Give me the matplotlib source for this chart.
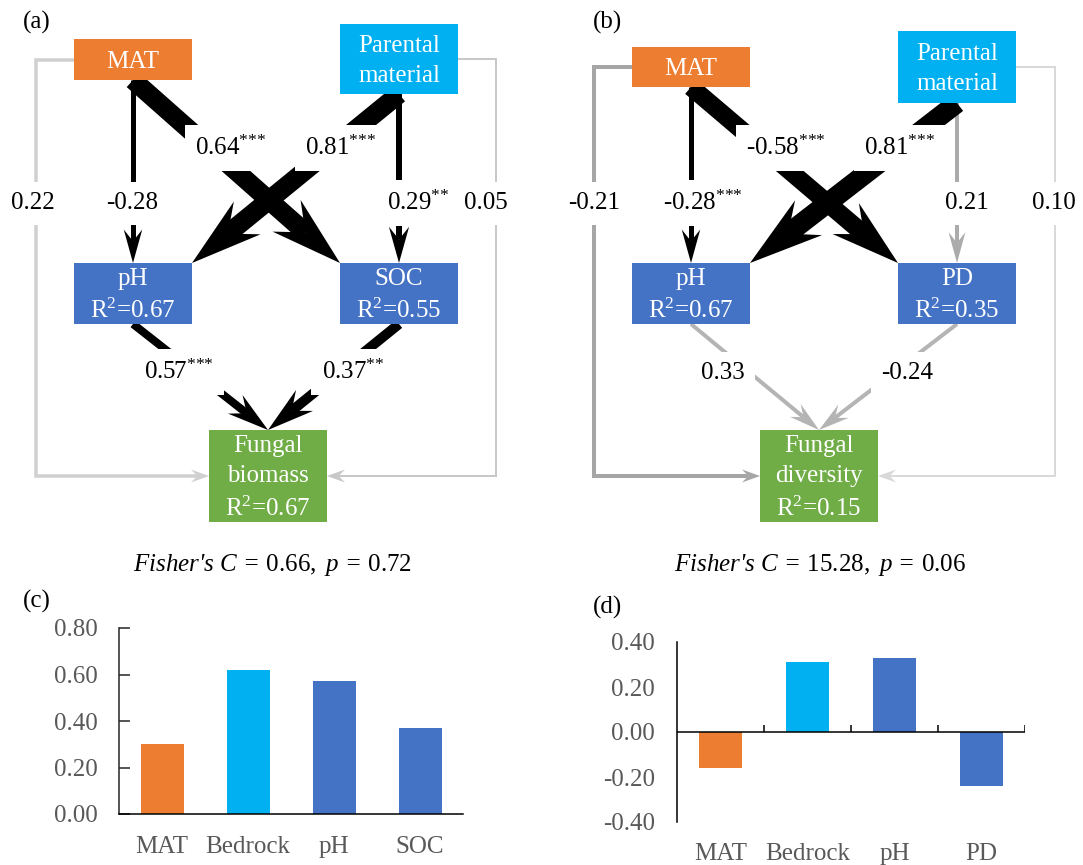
import numpy as np
import matplotlib.pyplot as plt
from matplotlib.patches import Rectangle, Polygon
from matplotlib.lines import Line2D
from matplotlib.ticker import FormatStrFormatter

plt.rcParams['font.family'] = ['Liberation Serif', 'DejaVu Serif']
plt.rcParams['mathtext.fontset'] = 'custom'
plt.rcParams['mathtext.rm'] = 'Liberation Serif'
plt.rcParams['mathtext.it'] = 'Liberation Serif:italic'
plt.rcParams['mathtext.default'] = 'regular'

# ---- path model (a): fungal biomass ----
nodes_a = {"MAT": "MAT", "PM": "Parental\nmaterial", "pH": "pH", "SOC": "SOC",
           "FB": "Fungal\nbiomass"}
r2_a = {"pH": 0.67, "SOC": 0.55, "FB": 0.67}
paths_a = [("MAT", "pH"), ("PM", "SOC"), ("MAT", "SOC"), ("PM", "pH"),
           ("pH", "FB"), ("SOC", "FB"), ("MAT", "FB"), ("PM", "FB")]
coef_a = [-0.28, 0.29, 0.64, 0.81, 0.57, 0.37, 0.22, 0.05]
stars_a = ["", "**", "***", "***", "***", "**", "", ""]
fisher_a = (0.66, 0.72)

# ---- path model (b): fungal diversity ----
nodes_b = {"MAT": "MAT", "PM": "Parental\nmaterial", "pH": "pH", "PD": "PD",
           "FD": "Fungal\ndiversity"}
r2_b = {"pH": 0.67, "PD": 0.35, "FD": 0.15}
paths_b = [("MAT", "pH"), ("PM", "PD"), ("MAT", "PD"), ("PM", "pH"),
           ("pH", "FD"), ("PD", "FD"), ("MAT", "FD"), ("PM", "FD")]
coef_b = [-0.28, 0.21, -0.58, 0.81, 0.33, -0.24, -0.21, 0.10]
stars_b = ["***", "", "***", "***", "", "", "", ""]
fisher_b = (15.28, 0.06)

# ---- standardized total effects ----
bar_labels_c = ["MAT", "Bedrock", "pH", "SOC"]
bar_values_c = [0.30, 0.62, 0.57, 0.37]
bar_labels_d = ["MAT", "Bedrock", "pH", "PD"]
bar_values_d = [-0.16, 0.31, 0.33, -0.24]

C_MAT, C_PM, C_SOIL, C_FUN = "#ED7D31", "#00B0F0", "#4472C4", "#70AD47"
node_colors = {"MAT": C_MAT, "PM": C_PM, "pH": C_SOIL, "SOC": C_SOIL,
               "PD": C_SOIL, "FB": C_FUN, "FD": C_FUN}
bar_colors = [C_MAT, C_PM, C_SOIL, C_SOIL]
FS = 18

# box geometry in pixels: x, y (top), width, height
boxes_a = {"MAT": (74, 39, 118, 41), "PM": (340, 24, 118, 70),
           "pH": (74, 263, 118, 61), "SOC": (340, 263, 118, 61),
           "FB": (209, 430, 118, 92)}
boxes_b = {"MAT": (632, 47, 118, 40), "PM": (898, 31, 118, 72),
           "pH": (632, 263, 118, 61), "PD": (898, 263, 118, 61),
           "FD": (760, 430, 118, 92)}

# per-path drawing: (kind, width px, colour, label position)
style_a = [("down", 5, "black", (132, 203)),
           ("down", 6, "black", (418, 203)),
           ("corner", 19, "black", (231, 148)),
           ("corner", 19, "black", (341, 148)),
           ("down", 8, "black", (179, 372)),
           ("down", 10, "black", (353, 372)),
           (("elbow", 36), 3.5, "#D0D0D0", (33, 203)),
           (("elbow", 496), 2, "#C8C8C8", (486, 203))]
style_b = [("down", 5, "black", (703, 203)),
           ("down", 4, "#ABABAB", (967, 203)),
           ("corner", 18, "black", (786, 148)),
           ("corner", 20, "black", (900, 148)),
           ("down", 4, "#B4B4B4", (723, 373)),
           ("down", 4, "#B4B4B4", (907, 373)),
           (("elbow", 594), 4, "#A6A6A6", (594, 203)),
           (("elbow", 1055), 2, "#D9D9D9", (1054, 203))]

fig = plt.figure(figsize=(10.83, 8.65), dpi=100)
ax = fig.add_axes([0, 0, 1, 1])
ax.set_xlim(0, 1083)
ax.set_ylim(865, 0)
ax.axis('off')


def draw_arrow(pts, w, color, head=None):
    pts = np.asarray(pts, float)
    hl, hw = head if head else (20 + 2.7 * w, 10 + 1.7 * w)
    tip = pts[-1]
    u = tip - pts[-2]
    u /= np.hypot(*u)
    n = np.array([-u[1], u[0]])
    notch = tip - 0.65 * hl * u
    shaft = np.vstack([pts[:-1], notch])
    ax.add_line(Line2D(shaft[:, 0], shaft[:, 1], lw=w * 0.72, color=color,
                       solid_capstyle='butt', solid_joinstyle='miter', zorder=1))
    ax.add_patch(Polygon([tip, tip - hl * u + hw / 2 * n, notch,
                          tip - hl * u - hw / 2 * n],
                         closed=True, fc=color, ec='none', zorder=1))


def draw_model(nodes, r2, boxes, paths, coefs, stars, styles):
    for key, (x, y, w, h) in boxes.items():
        ax.add_patch(Rectangle((x, y), w, h, fc=node_colors[key], ec='none', zorder=4))
        text = nodes[key]
        if key in r2:
            text += "\nR$^2$=%.2f" % r2[key]
        ax.text(x + w / 2, y + h / 2 + 2, text, ha='center', va='center',
                color='white', fontsize=FS, linespacing=1.5, zorder=5)

    for (src, dst), c, s, (kind, w, col, lpos) in zip(paths, coefs, stars, styles):
        sx, sy, sw, sh = boxes[src]
        dx, dy, dw, dh = boxes[dst]
        if kind == "down":
            pts = [(sx + sw / 2, sy + sh), (dx + dw / 2, dy)]
            draw_arrow(pts, w, col)
        elif kind == "corner":
            ex = dx + dw if dx < sx else dx
            pts = [(sx + sw / 2, sy + sh), (ex, dy)]
            draw_arrow(pts, w, col)
        else:
            xr = kind[1]
            side_s = sx if xr < sx else sx + sw
            side_d = dx if xr < dx else dx + dw
            pts = [(side_s, sy + sh / 2), (xr, sy + sh / 2),
                   (xr, dy + dh / 2), (side_d, dy + dh / 2)]
            draw_arrow(pts, w, col, head=(18, 13))
        label = "%.2f" % c
        if s:
            label += "$^{%s}$" % "".join("{*}" for _ in s)
        ax.text(lpos[0], lpos[1], label, ha='center', va='center', fontsize=FS,
                zorder=3, bbox=dict(boxstyle='square,pad=0.42', fc='white', ec='none'))


draw_model(nodes_a, r2_a, boxes_a, paths_a, coef_a, stars_a, style_a)
draw_model(nodes_b, r2_b, boxes_b, paths_b, coef_b, stars_b, style_b)

for xc, (cval, pval) in zip([272, 820], [fisher_a, fisher_b]):
    ax.text(xc, 565, "Fisher's C = $\\mathrm{%.2f,}$ p = $\\mathrm{%.2f}$" % (cval, pval),
            ha='center', va='center', fontsize=FS, style='italic')

for (px, py), lab in zip([(37, 22), (608, 22), (37, 601), (608, 607)],
                         ["(a)", "(b)", "(c)", "(d)"]):
    ax.text(px, py, lab, ha='center', va='center', fontsize=FS)

# ---- bar chart (c) ----
axc = fig.add_axes([119 / 1083, 1 - 814 / 865, 344 / 1083, 186 / 865])
axc.set_facecolor('none')
axc.bar(range(len(bar_values_c)), bar_values_c, width=0.5, color=bar_colors)
axc.set_xlim(-0.5, 3.5)
axc.set_ylim(0, 0.8)
axc.set_yticks(np.arange(0, 0.81, 0.2))
axc.yaxis.set_major_formatter(FormatStrFormatter('%.2f'))
axc.set_xticks(range(len(bar_labels_c)))
axc.set_xticklabels(bar_labels_c)
axc.tick_params(axis='y', direction='in', length=8, width=1.1, pad=15,
                labelsize=FS, labelcolor='#595959', color='#262626')
axc.tick_params(axis='x', length=0, pad=16, labelsize=FS, labelcolor='#595959')
for sp in ['top', 'right']:
    axc.spines[sp].set_visible(False)
axc.spines['left'].set_color('#262626')
axc.spines['left'].set_linewidth(1.1)
axc.spines['bottom'].set_linewidth(1.1)

# ---- bar chart (d) ----
axd = fig.add_axes([677 / 1083, 1 - 822 / 865, 348 / 1083, 180 / 865])
axd.set_facecolor('none')
axd.bar(range(len(bar_values_d)), bar_values_d, width=0.5, color=bar_colors)
axd.set_xlim(-0.5, 3.5)
axd.set_ylim(-0.4, 0.4)
axd.set_yticks(np.arange(-0.4, 0.41, 0.2))
axd.yaxis.set_major_formatter(FormatStrFormatter('%.2f'))
axd.set_xticks(range(len(bar_labels_d)))
axd.set_xticklabels(bar_labels_d)
axd.axhline(0, color='black', lw=1.1)
axd.vlines(np.arange(0.5, 4, 1), 0, 0.03, color='black', lw=1.1)
axd.tick_params(axis='y', length=0, pad=16, labelsize=FS, labelcolor='#595959')
axd.tick_params(axis='x', length=0, pad=15, labelsize=FS, labelcolor='#595959')
for sp in ['top', 'right', 'bottom']:
    axd.spines[sp].set_visible(False)
axd.spines['left'].set_linewidth(1.1)

fig.savefig('out.png', dpi=100)
